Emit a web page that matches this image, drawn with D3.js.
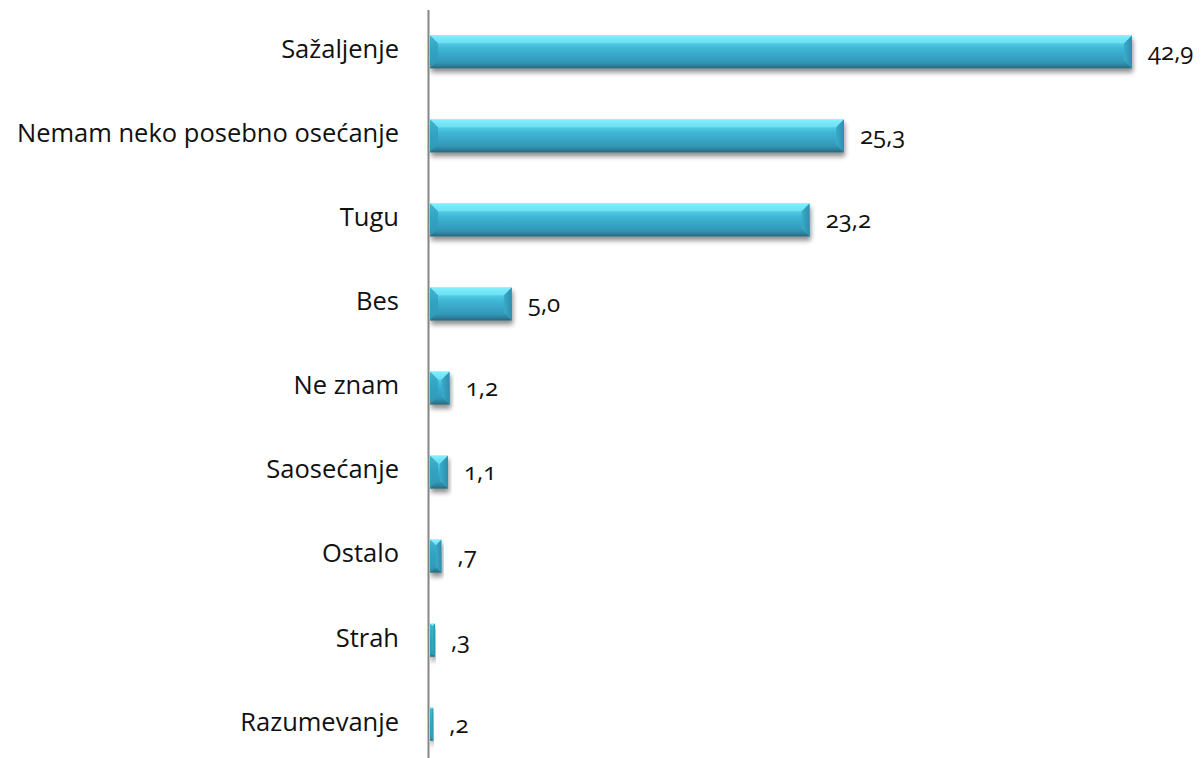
<!DOCTYPE html>
<html>
<head>
<meta charset="utf-8">
<script src="https://cdn.jsdelivr.net/npm/d3@7"></script>
<style>
  body { margin: 0; background: #fff; }
  .cat { font-family: "Open Sans", "Noto Sans", sans-serif; font-size: 25.5px; fill: #111; }
  .val { font-family: "Open Sans", "Noto Sans", sans-serif; font-size: 24px; fill: #111; font-variant-numeric: oldstyle-nums; font-feature-settings: "onum"; }
</style>
</head>
<body>
<svg id="chart" width="1204" height="758"></svg>
<script>
const categories = ['Sažaljenje', 'Nemam neko posebno osećanje', 'Tugu', 'Bes', 'Ne znam', 'Saosećanje', 'Ostalo', 'Strah', 'Razumevanje'];
const values = [42.9, 25.3, 23.2, 5.0, 1.2, 1.1, 0.7, 0.3, 0.2];
const valueLabels = ['42,9', '25,3', '23,2', '5,0', '1,2', '1,1', ',7', ',3', ',2'];

const svg = d3.select('#chart');
const margin = { top: 10, left: 430 };
const plotW = 702, plotH = 756;

const defs = svg.append('defs');
const grad = defs.append('linearGradient').attr('id', 'barGrad').attr('x1', 0).attr('y1', 0).attr('x2', 0).attr('y2', 1);
[['0%', '#8ef4ff'], ['12%', '#62dcf0'], ['40%', '#3fb6d6'], ['80%', '#3398b8'], ['92%', '#2d7f9a'], ['100%', '#2a6478']]
  .forEach(s => grad.append('stop').attr('offset', s[0]).attr('stop-color', s[1]));
const capGrad = defs.append('linearGradient').attr('id', 'capGrad').attr('x1', 0).attr('y1', 0).attr('x2', 1).attr('y2', 0);
[['0%', '#3aaccc'], ['100%', '#2f8eaa']].forEach(s => capGrad.append('stop').attr('offset', s[0]).attr('stop-color', s[1]));
const shadow = defs.append('filter').attr('id', 'shadow').attr('x', '-10%').attr('y', '-20%').attr('width', '130%').attr('height', '160%');
shadow.append('feGaussianBlur').attr('in', 'SourceAlpha').attr('stdDeviation', 2.5);
shadow.append('feOffset').attr('dx', 1).attr('dy', 4).attr('result', 'b');
shadow.append('feComponentTransfer').append('feFuncA').attr('type', 'linear').attr('slope', 0.45);
const merge = shadow.append('feMerge');
merge.append('feMergeNode');
merge.append('feMergeNode').attr('in', 'SourceGraphic');

const x = d3.scaleLinear().domain([0, 42.9]).range([0, plotW]);
const y = d3.scaleBand().domain(categories).range([0, plotH]).paddingInner(0.605).paddingOuter(0.3);

const g = svg.append('g').attr('transform', `translate(${margin.left},${margin.top})`);

// bars
const bars = g.selectAll('.bar').data(values).enter().append('g')
  .attr('class', 'bar')
  .attr('filter', 'url(#shadow)')
  .attr('transform', (d, i) => `translate(0,${y(categories[i])})`);

bars.append('rect')
  .attr('x', 0).attr('y', 0)
  .attr('width', d => x(d))
  .attr('height', y.bandwidth())
  .attr('fill', 'url(#barGrad)');

// bevel at the right end
bars.append('path')
  .attr('d', d => {
    const w = x(d), h = y.bandwidth(), b = Math.min(8, w / 2);
    return `M${w - b},${b} L${w},0 L${w},${h} L${w - b},${h - b} Z`;
  })
  .attr('fill', 'url(#capGrad)');
bars.append('path')
  .attr('d', d => {
    const w = x(d), b = Math.min(8, w / 2);
    return `M0,0 L${w},0 L${w - b},${b} L${b},${b} Z`;
  })
  .attr('fill', '#7eecfb').attr('opacity', 0.6);
bars.append('path')
  .attr('d', d => {
    const h = y.bandwidth(), b = Math.min(8, x(d) / 2);
    return `M0,0 L${b},${b} L${b},${h - b} L0,${h} Z`;
  })
  .attr('fill', '#2f9cbc').attr('opacity', 0.7);

// axis line
g.append('line')
  .attr('x1', -1.5).attr('x2', -1.5)
  .attr('y1', 0).attr('y2', plotH)
  .attr('stroke', '#868686').attr('stroke-width', 2);

// category labels
g.selectAll('.cat').data(categories).enter().append('text')
  .attr('class', 'cat')
  .attr('x', -31)
  .attr('y', d => y(d) + y.bandwidth() / 2)
  .attr('dy', '0.25em')
  .attr('text-anchor', 'end')
  .text(d => d);

// value labels
g.selectAll('.val').data(values).enter().append('text')
  .attr('class', 'val')
  .attr('x', d => x(d) + 16)
  .attr('y', (d, i) => y(categories[i]) + y.bandwidth() / 2)
  .attr('dy', '0.35em')
  .text((d, i) => valueLabels[i]);
</script>
</body>
</html>
